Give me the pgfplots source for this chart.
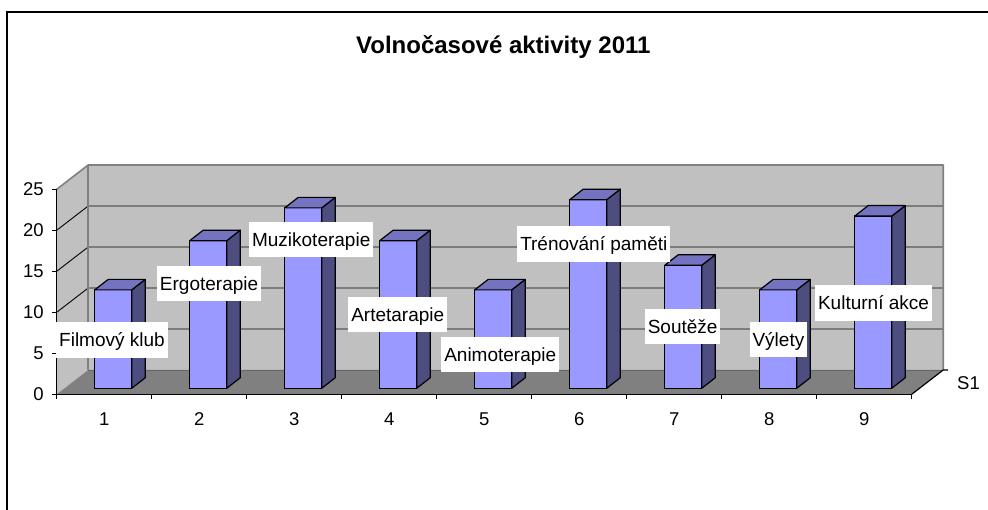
\documentclass[border=0pt]{standalone}
\usepackage{pgfplots}
\pgfplotsset{compat=1.18}
\usepackage{fontspec}
\setmainfont{Liberation Sans}
\definecolor{frontc}{HTML}{9999FF}
\definecolor{topc}{HTML}{7373BF}
\definecolor{sidec}{HTML}{4D4D80}
\definecolor{wallc}{HTML}{C0C0C0}
\definecolor{floorc}{HTML}{808080}
\definecolor{edgec}{HTML}{808080}
\pgfdeclareplotmark{empty}{}
\newcommand\tck{\fontsize{18.5}{20}\selectfont}
\newcommand\lbl{\fontsize{19}{21}\selectfont}
\def\dx{31.5pt}
\def\dy{24.3pt}
\begin{document}
\begin{tikzpicture}
\useasboundingbox (0,0) rectangle (988pt,510pt);
\fill[white] (0,0) rectangle (988pt,510pt);
\draw[black, line width=1.5pt] (7pt,-5pt) -- (7pt,498pt) -- (995pt,498pt);
\node[anchor=base, font=\fontsize{24}{27}\selectfont\bfseries] at (503.3pt,456.7pt) {Volnočasové aktivity 2011};
% front plane: walls, floor, axes
\begin{axis}[
  at={(56.7pt,115.7pt)}, anchor=south west, scale only axis,
  width=855pt, height=205pt,
  xmin=0.5, xmax=9.5, ymin=0, ymax=25,
  clip=false, axis on top,
  axis x line*=bottom, axis y line*=left,
  axis line style={-, black, line width=1.2pt},
  every outer x axis line/.append style={-},
  every outer y axis line/.append style={-},
  tick align=outside, major tick length=4.5pt,
  tick style={black, line width=1.2pt},
  xtick={0.5,1.5,...,9.5},
  xticklabels={1,2,3,4,5,6,7,8,9,{}},
  ytick={0,5,...,25},
  /pgf/number format/assume math mode=true,
  ticklabel style={font=\tck, inner sep=0pt},
  xticklabel style={anchor=north, xshift=47.47pt, yshift=-13.7pt},
  yticklabel style={anchor=east, xshift=-8.4pt},
]
\fill[wallc] (axis cs:0.5,0) -- (axis cs:0.5,25) -- ([shift={(\dx,\dy)}]axis cs:0.5,25) -- ([shift={(\dx,\dy)}]axis cs:0.5,0) -- cycle;
\fill[wallc] ([shift={(\dx,\dy)}]axis cs:0.5,0) rectangle ([shift={(\dx,\dy)}]axis cs:9.5,25);
\fill[floorc] (axis cs:0.5,0) -- (axis cs:9.5,0) -- ([shift={(\dx,\dy)}]axis cs:9.5,0) -- ([shift={(\dx,\dy)}]axis cs:0.5,0) -- cycle;
\pgfplotsinvokeforeach{5,10,15,20}{
  \draw[black, line width=0.9pt] (axis cs:0.5,#1) -- ([shift={(\dx,\dy)}]axis cs:0.5,#1) -- ([shift={(\dx,\dy)}]axis cs:9.5,#1);
}
\draw[edgec, line width=1.6pt, line join=round] (axis cs:0.5,25) -- ([shift={(\dx,\dy)}]axis cs:0.5,25) -- ([shift={(\dx,\dy)}]axis cs:9.5,25) -- ([shift={(\dx,\dy)}]axis cs:9.5,0);
\draw[edgec, line width=1.6pt] ([shift={(\dx,\dy)}]axis cs:0.5,25) -- ([shift={(\dx,\dy)}]axis cs:0.5,0);
\draw[edgec!80!black, line width=0.8pt] ([shift={(\dx,\dy)}]axis cs:0.5,0) -- ([shift={(\dx,\dy)}]axis cs:9.5,0);
\draw[black, line width=1.2pt] (axis cs:9.5,0) -- ([shift={(\dx,\dy)}]axis cs:9.5,0) -- ++(5pt,0pt);
\node[anchor=west, font=\tck, inner sep=0pt] at ([shift={(45.3pt,11.6pt)}]axis cs:9.5,0) {S1};
\end{axis}
% bar plane
\begin{axis}[
  at={(65.7pt,121.7pt)}, anchor=south west, scale only axis,
  width=855pt, height=205pt,
  xmin=0.5, xmax=9.5, ymin=0, ymax=25,
  clip=false, hide axis,
]
\addplot[ybar, bar width=37pt, bar shift=0pt, fill=frontc, draw=black, line width=1.2pt]
  coordinates {(1,12) (2,18) (3,22) (4,18) (5,12) (6,23) (7,15) (8,12) (9,21)};
\addplot[scatter, only marks, mark=empty,
  visualization depends on={y \as \vh},
  scatter/@pre marker code/.code={
    \fill[sidec, draw=black, line width=1.2pt, line join=round] (18.5pt,0pt) -- (32pt,10.5pt) -- ([shift={(32pt,10.5pt)}]axis direction cs:0,-\vh) -- ([shift={(18.5pt,0pt)}]axis direction cs:0,-\vh) -- cycle;
    \fill[topc, draw=black, line width=1.2pt, line join=round] (-18.5pt,0pt) -- (18.5pt,0pt) -- (32pt,10.5pt) -- (-5pt,10.5pt) -- cycle;
  },
  scatter/@post marker code/.code={},
] coordinates {(1,12) (2,18) (3,22) (4,18) (5,12) (6,23) (7,15) (8,12) (9,21)};
\end{axis}
% data labels
\begin{axis}[
  at={(56.7pt,115.7pt)}, anchor=south west, scale only axis,
  width=855pt, height=205pt,
  xmin=0.5, xmax=9.5, ymin=0, ymax=25,
  clip=false, hide axis,
]
\addplot[only marks, mark=empty, point meta=explicit symbolic,
  nodes near coords,
  every node near coord/.append style={anchor=center, fill=white, text=black, font=\lbl,
    inner xsep=2.8pt, inner ysep=0pt, text height=13.6pt, text depth=0pt, minimum height=35.5pt},
] coordinates {
  (1.082,6.62) [Filmový klub]
  (2.104,13.54) [Ergoterapie]
  (3.179,18.88) [Muzikoterapie]
  (4.090,9.71) [Artetarapie]
  (5.169,4.85) [Animoterapie]
  (6.154,18.35) [Trénování paměti]
  (7.089,8.24) [Soutěže]
  (8.097,6.66) [Výlety]
  (9.098,11.16) [Kulturní akce]
};
\end{axis}
\end{tikzpicture}
\end{document}
